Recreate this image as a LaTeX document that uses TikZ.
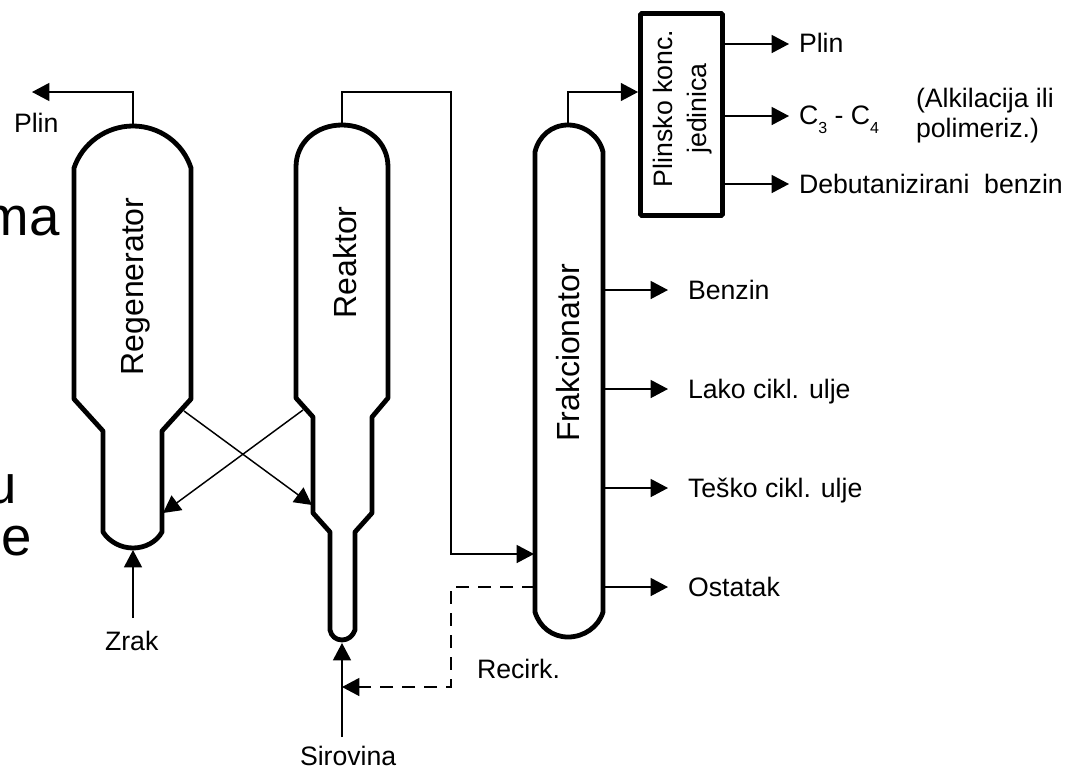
\documentclass[tikz,border=0pt]{standalone}
\usepackage{fontspec}
\setmainfont{Liberation Sans}
\usepackage{xcolor}
\usetikzlibrary{arrows.meta,positioning}
\newcommand{\lowd}[1]{\raisebox{-7pt}{\fontsize{12}{14}\selectfont #1}}
\tikzset{
  vessel/.style={draw=black, line width=3.6pt, line join=round},
  arrow/.style={-{Triangle[length=13pt,width=13.5pt]}, line width=1.1pt, color=black},
  recirk/.style={arrow, dashed, dash pattern=on 9.5pt off 7pt},
  lbl/.style={inner sep=0pt, outer sep=0pt, anchor=base west, font=\fontsize{20}{24}\selectfont},
  vlabel/.style={inner sep=0pt, rotate=90, anchor=base, font=\fontsize{24}{28}\selectfont},
  slide/.style={inner sep=0pt, anchor=base east, font=\fontsize{41}{48}\selectfont},
  unit/.style={rectangle, rounded corners=1pt, draw=black, line width=3.6pt,
               minimum width=61.5pt, minimum height=151.5pt, inner sep=0pt},
  unitlabel/.style={inner sep=0pt, rotate=90, align=center, font=\fontsize{20}{25.5}\selectfont},
}
\begin{document}
\begin{tikzpicture}[x=0.75pt,y=-0.75pt]
\useasboundingbox (0,0) rectangle (1071,768);

% slide text behind the drawing
\node[slide] (txta) at (60,235) {ma};
\node[slide] (txtb) at (17,503) {u};
\node[slide] (txtc) at (32,555) {e};

% vessels
\draw[vessel] (74,168) .. controls (82.4,143) and (106.5,126) .. (133,126)
  .. controls (159.5,126) and (183,143) .. (191,168)
  -- (191,399) -- (162,431) -- (162,532)
  .. controls (156.5,542) and (145,548) .. (133,548)
  .. controls (121,548) and (109.5,542) .. (103,532)
  -- (103,431) -- (74,399) -- cycle;
\draw[vessel] (296,167) .. controls (296,142) and (316.6,125) .. (342,125)
  .. controls (367.4,125) and (388,142) .. (388,167)
  -- (388,398) -- (372,417) -- (372,513) -- (355,532) -- (355,630)
  .. controls (353,636) and (348,640) .. (342,640)
  .. controls (336,640) and (331,636) .. (330,630)
  -- (330,532) -- (313,513) -- (313,417) -- (296,398) -- cycle;
\draw[vessel] (535,152) .. controls (538.7,136) and (551.7,125) .. (568,125)
  .. controls (584.3,125) and (599.3,136) .. (603,152)
  -- (603,612) .. controls (598.5,627) and (584,637) .. (568,637)
  .. controls (552.3,637) and (539.5,627) .. (535,612) -- cycle;

% labels on the vessels
\node[vlabel] (regen) at (143,286.5) {Regenerator};
\node[vlabel] (reak) at (356,262.5) {Reaktor};
\node[vlabel] (frak) at (579,353) {Frakcionator};
\node[unit] (plinska) at (681.5,114.5) {};
\node[unitlabel] (plintxt) at (682.5,108.5) {Plinsko konc.\\jedinica};

% anchors for the pipes
\coordinate (regtop) at (133,126);
\coordinate (regbot) at (133,550);
\coordinate (regin) at (163,513);
\coordinate (regout) at (184,411);
\coordinate (reatop) at (342,125);
\coordinate (reabot) at (342,643);
\coordinate (reain) at (312,505);
\coordinate (reaout) at (303,410);
\coordinate (fraktop) at (568,125);
\coordinate (frakin) at (534,554);
\coordinate (frakrec) at (535,587);
\coordinate (frakside) at (603,587);
\coordinate (bend1) at (133,92);
\coordinate (vent) at (32,92);
\coordinate (bend2) at (342,92);
\coordinate (bend3) at (451,92);
\coordinate (bend4) at (451,554);
\coordinate (bend5) at (568,92);
\coordinate (bend6) at (451,587);
\coordinate (bend7) at (451,687);
\coordinate (recin) at (342,687);
\coordinate (zrakin) at (133,618);
\coordinate (sirin) at (342,737);

% side draws
\coordinate (out1) at (789,44);
\coordinate (out2) at (789,116);
\coordinate (out3) at (789,184);
\coordinate (out4) at (668,290);
\coordinate (out5) at (668,389);
\coordinate (out6) at (668,488);
\coordinate (out7) at (668,587);

\node[lbl] (plina) at (14,132) {Plin};
\node[lbl] (plinb) at (799,52) {Plin};
\node[lbl] (c34) at (799,124) {C\lowd{3} - C\lowd{4}};
\node[lbl] (alk) at (916,107) {(Alkilacija ili};
\node[lbl] (pol) at (916,137) {polimeriz.)};
\node[lbl] (deb) at (799,193) {Debutanizirani\ \ benzin};
\node[lbl] (benz) at (688,299) {Benzin};
\node[lbl] (lako) at (688,398) {Lako cikl. ulje};
\node[lbl] (tesko) at (688,497) {Teško cikl. ulje};
\node[lbl] (ost) at (688,596) {Ostatak};
\node[lbl] (zrak) at (105,650) {Zrak};
\node[lbl] (rec) at (477,678) {Recirk.};
\node[lbl] (sir) at (300,765) {Sirovina};

\draw[arrow] (regtop) -- (bend1) -- (vent);
\draw[arrow] (reatop) -- (bend2) -- (bend3) -- (bend4) -- (frakin);
\draw[arrow] (fraktop) -- (bend5) -- (plinska.west |- bend5);
\draw[arrow] (regout) -- (reain);
\draw[arrow] (reaout) -- (regin);
\draw[arrow] (zrakin) -- (regbot);
\draw[arrow] (sirin) -- (reabot);
\draw[recirk] (frakrec) -- (bend6) -- (bend7) -- (recin);

\draw[arrow] (plinska.east |- out1) -- (out1);
\draw[arrow] (plinska.east |- out2) -- (out2);
\draw[arrow] (plinska.east |- out3) -- (out3);
\draw[arrow] (frakside |- out4) -- (out4);
\draw[arrow] (frakside |- out5) -- (out5);
\draw[arrow] (frakside |- out6) -- (out6);
\draw[arrow] (frakside) -- (out7);
\end{tikzpicture}
\end{document}
